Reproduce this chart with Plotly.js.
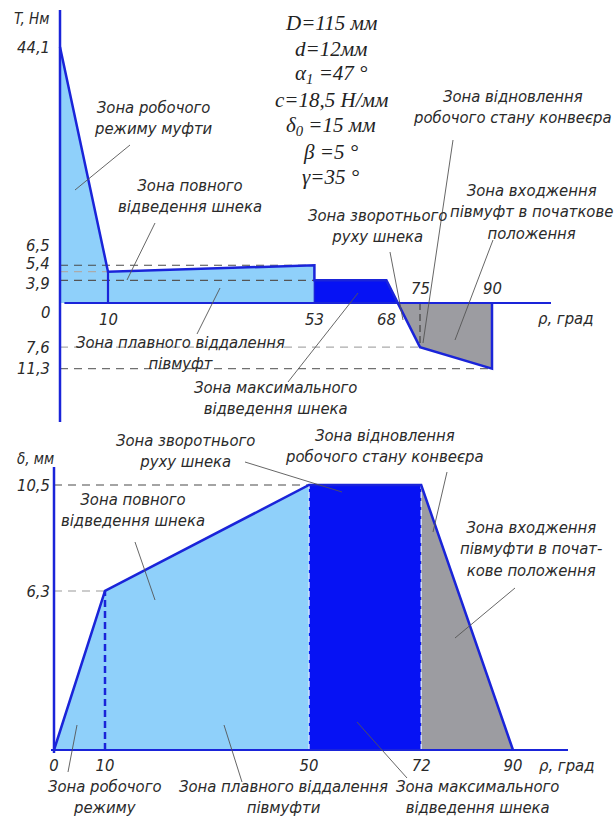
<!DOCTYPE html>
<html>
<head>
<meta charset="utf-8">
<script src="https://cdn.plot.ly/plotly-3.0.1.min.js"></script>
<style>html,body{margin:0;padding:0;background:#fff;}#chart{width:616px;height:829px;}</style>
</head>
<body>
<div id="chart"></div>
<script>
// ---------------- DATA ----------------
// Upper chart: torque T (Нм) versus rotation angle ρ (град)
const T_rho = [0, 10, 53, 53, 68, 75, 90, 90];
const T_val = [44.1, 5.4, 6.5, 3.9, 3.9, -7.6, -11.3, 0];
const T_tickVals = [44.1, 6.5, 5.4, 3.9, 0, -7.6, -11.3];
const T_tickText = ['44,1', '6,5', '5,4', '3,9', '0', '7,6', '11,3'];
const T_rhoTicksBelow = [10, 53, 68];
const T_rhoTicksAbove = [75, 90];

// Lower chart: displacement δ (мм) versus rotation angle ρ (град)
const d_rho = [0, 10, 50, 72, 90];
const d_val = [0, 6.3, 10.5, 10.5, 0];
const d_tickVals = [6.3, 10.5];
const d_tickText = ['6,3', '10,5'];
const d_rhoTicks = [0, 10, 50, 72, 90];

// Parameters block
const params = ['D=115 мм', 'd=12мм', 'α<sub>1</sub> =47 °', 'c=18,5 Н/мм', 'δ<sub>0</sub> =15 мм', 'β =5 °', 'γ=35 °'];

// ---------------- STYLE / LAYOUT HELPERS ----------------
const W = 616, H = 829;
const X = p => p / W;
const Y = p => 1 - p / H;
const BLUE = '#1a24d9', LIGHT = '#8fd0fa', DARK = '#0612f4', GRAY = '#9c9ca1';
const TXT = '#2a2a2a';
const FONT = 'DejaVu Sans Condensed, Liberation Sans Narrow, Liberation Sans, sans-serif';
const tf = (s) => ({family: FONT, size: s || 16.5, color: TXT});
const it = s => '<i>' + s + '</i>';

// pixel geometry of the two plots
const geoTop = {x0: 60, sx: 4.8, left: 57, right: 551, y0: 303, sy: 5.805, ytop: 10, ybot: 422};
const geoBot = {x0: 54, sx: 5.1, left: 51, right: 568, y0: 750, sy: 25.24, ytop: 467, ybot: 753};

const traces = [];
function fillTrace(xs, ys, color, xa, ya) {
  traces.push({x: xs, y: ys, xaxis: xa, yaxis: ya, type: 'scatter', mode: 'lines',
    fill: 'tozeroy', fillcolor: color, line: {width: 0, color: color}, hoverinfo: 'skip'});
}
function lineTrace(xs, ys, color, width, dash, xa, ya) {
  traces.push({x: xs, y: ys, xaxis: xa, yaxis: ya, type: 'scatter', mode: 'lines',
    line: {color: color, width: width, dash: dash || 'solid'}, hoverinfo: 'skip'});
}

// ---- upper chart fills ----
// zero crossing of the sloping segment (68 -> 75)
const i1 = 4, i2 = 5;
const xc = T_rho[i1] + (0 - T_val[i1]) * (T_rho[i2] - T_rho[i1]) / (T_val[i2] - T_val[i1]);
fillTrace(T_rho.slice(0, 3), T_val.slice(0, 3), LIGHT, 'x', 'y');
fillTrace(T_rho.slice(3, 5).concat([xc]), T_val.slice(3, 5).concat([0]), DARK, 'x', 'y');
fillTrace([xc].concat(T_rho.slice(5, 7)), [0].concat(T_val.slice(5, 7)), GRAY, 'x', 'y');

// ---- upper chart dashed reference lines ----
const refT = [
  {v: T_val[2], r: T_rho[2], c: '#4a4a4a'},
  {v: T_val[1], r: T_rho[1], c: '#ababab'},
  {v: T_val[3], r: T_rho[3], c: '#555555'},
  {v: T_val[5], r: T_rho[5], c: '#ababab'},
  {v: T_val[6], r: T_rho[6], c: '#707070'}
];
refT.forEach(o => lineTrace([0, o.r], [o.v, o.v], o.c, 1.2, '8px,6px', 'x', 'y'));
lineTrace([T_rho[5], T_rho[5]], [0, T_val[5]], '#444', 1.2, '7px,4px', 'x', 'y');

// ---- upper chart outline ----
lineTrace(T_rho, T_val, BLUE, 2.5, 'solid', 'x', 'y');
lineTrace([T_rho[1], T_rho[1]], [0, T_val[1]], BLUE, 2.2, 'solid', 'x', 'y');
lineTrace([T_rho[3], T_rho[3]], [T_val[3], 0], BLUE, 1.5, 'solid', 'x', 'y');

// ---- lower chart fills ----
fillTrace(d_rho.slice(0, 3), d_val.slice(0, 3), LIGHT, 'x2', 'y2');
fillTrace(d_rho.slice(2, 4), d_val.slice(2, 4), DARK, 'x2', 'y2');
fillTrace(d_rho.slice(3, 5), d_val.slice(3, 5), GRAY, 'x2', 'y2');

// ---- lower chart dashed lines ----
lineTrace([0, d_rho[2]], [d_val[2], d_val[2]], '#4a4a4a', 1.2, '8px,6px', 'x2', 'y2');
lineTrace([0, d_rho[1]], [d_val[1], d_val[1]], '#9a9a9a', 1.2, '8px,6px', 'x2', 'y2');
lineTrace([d_rho[1], d_rho[1]], [0, d_val[1]], BLUE, 2.5, '7px,4px', 'x2', 'y2');
lineTrace([d_rho[2], d_rho[2]], [0, d_val[2]], 'rgba(215,225,255,0.95)', 1.5, '6px,3px', 'x2', 'y2');
lineTrace([d_rho[3], d_rho[3]], [0, d_val[3]], 'rgba(215,225,255,0.95)', 1.5, '6px,3px', 'x2', 'y2');

// ---- lower chart outline ----
lineTrace(d_rho, d_val, BLUE, 2.5, 'solid', 'x2', 'y2');

// ---------------- ANNOTATIONS ----------------
const ann = [];
function txt(x, y, t, size, anchor) {
  ann.push({xref: 'paper', yref: 'paper', x: X(x), y: Y(y), text: it(t), showarrow: false,
    xanchor: anchor || 'center', yanchor: 'middle', align: 'center', font: tf(size), borderpad: 0});
}
// axis titles
txt(31, 19, 'T, Нм', 15);
txt(35, 459, 'δ, мм', 15);
txt(537, 318, 'ρ, град', 16.5, 'left');
txt(538, 765, 'ρ, град', 16.5, 'left');

// upper y tick labels (offsets only separate the crowded labels, as in the original)
const T_tickShift = [0, 20, 8, -3, -9, 0, 0];
T_tickVals.forEach((v, i) => ann.push({xref: 'paper', yref: 'y', x: X(51), y: v, yshift: T_tickShift[i],
  text: it(T_tickText[i]), showarrow: false, xanchor: 'right', yanchor: 'middle', font: tf(16.5), borderpad: 0}));
T_rhoTicksBelow.forEach(v => ann.push({xref: 'x', yref: 'y', x: v, y: 0, yshift: -16,
  text: it(String(v)), showarrow: false, xanchor: 'center', yanchor: 'middle', font: tf(16.5), borderpad: 0}));
T_rhoTicksAbove.forEach(v => ann.push({xref: 'x', yref: 'y', x: v, y: 0, yshift: 15,
  text: it(String(v)), showarrow: false, xanchor: 'center', yanchor: 'middle', font: tf(16.5), borderpad: 0}));

// parameter block
params.forEach((p, i) => ann.push({xref: 'paper', yref: 'paper', x: X(331), y: Y(23 + i * 25.7),
  text: '<i>' + p + '</i>', showarrow: false, xanchor: 'center', yanchor: 'middle',
  font: {family: 'Liberation Serif, Times New Roman, serif', size: 21, color: '#222'}}));

// zone labels - upper chart
txt(153, 118, 'Зона робочого<br>режиму муфти');
txt(190, 196, 'Зона повного<br>відведення шнека');
txt(180, 353, 'Зона плавного віддалення<br>півмуфт');
txt(275, 398, 'Зона максимального<br>відведення шнека');
txt(377, 226, 'Зона зворотнього<br>руху шнека');
txt(512, 107, 'Зона відновлення<br>робочого стану конвеєра');
txt(531, 212, 'Зона входження<br>півмуфт в початкове<br>положення');

// zone labels - lower chart
txt(185, 451, 'Зона зворотнього<br>руху шнека');
txt(384, 446, 'Зона відновлення<br>робочого стану конвеєра');
txt(133, 510, 'Зона повного<br>відведення шнека');
txt(531, 549, 'Зона входження<br>півмуфти в почат-<br>кове положення');
txt(105, 797, 'Зона робочого<br>режиму');
txt(283, 797, 'Зона плавного віддалення<br>півмуфти');
txt(477, 797, 'Зона максимального<br>відведення шнека');

// ---------------- SHAPES (axes and leader lines) ----------------
const shapes = [];
function axLine(xref, yref, x0, y0, x1, y1, w) {
  shapes.push({type: 'line', xref: xref, yref: yref, x0: x0, y0: y0, x1: x1, y1: y1, layer: 'above',
    line: {color: BLUE, width: w}});
}
axLine('x domain', 'y', 0.015, 0, 1, 0, 2.2);
axLine('x', 'y domain', 0, 0, 0, 1, 2.5);
axLine('x2 domain', 'y2', 0, 0, 1, 0, 2.2);
axLine('x2', 'y2 domain', 0, 0, 0, 1, 2.5);

function leader(xa, ya, xb, yb) {
  shapes.push({type: 'line', xref: 'paper', yref: 'paper', x0: X(xa), y0: Y(ya), x1: X(xb), y1: Y(yb),
    layer: 'above', line: {color: '#555', width: 0.9}});
}
// upper
leader(130, 145, 75, 190);
leader(155, 223, 127, 280);
leader(197, 334, 220, 288);
leader(288, 382, 358, 293);
leader(390, 252, 403, 320);
leader(453, 140, 423, 343);
leader(493, 240, 455, 340);
// lower
leader(245, 462, 342, 492);
leader(447, 472, 433, 532);
leader(135, 542, 155, 600);
leader(515, 588, 455, 638);
leader(68, 772, 77, 725);
leader(242, 782, 224, 725);
leader(407, 778, 357, 722);

// ---------------- LAYOUT ----------------
const noAx = {showgrid: false, zeroline: false, showline: false, ticks: '', fixedrange: true};
const layout = {
  width: W, height: H, margin: {l: 0, r: 0, t: 0, b: 0},
  paper_bgcolor: '#fff', plot_bgcolor: 'rgba(0,0,0,0)', showlegend: false,
  xaxis: Object.assign({}, noAx, {domain: [X(geoTop.left), X(geoTop.right)],
    range: [(geoTop.left - geoTop.x0) / geoTop.sx, (geoTop.right - geoTop.x0) / geoTop.sx], showticklabels: false, anchor: 'y'}),
  yaxis: Object.assign({}, noAx, {domain: [Y(geoTop.ybot), Y(geoTop.ytop)],
    range: [-(geoTop.ybot - geoTop.y0) / geoTop.sy, (geoTop.y0 - geoTop.ytop) / geoTop.sy], showticklabels: false, anchor: 'x'}),
  xaxis2: Object.assign({}, noAx, {domain: [X(geoBot.left), X(geoBot.right)],
    range: [(geoBot.left - geoBot.x0) / geoBot.sx, (geoBot.right - geoBot.x0) / geoBot.sx], anchor: 'y2',
    tickmode: 'array', tickvals: d_rhoTicks, ticktext: d_rhoTicks.map(v => it(String(v))), tickfont: tf(16.5)}),
  yaxis2: Object.assign({}, noAx, {domain: [Y(geoBot.ybot), Y(geoBot.ytop)],
    range: [-(geoBot.ybot - geoBot.y0) / geoBot.sy, (geoBot.y0 - geoBot.ytop) / geoBot.sy], anchor: 'x2',
    tickmode: 'array', tickvals: d_tickVals, ticktext: d_tickText.map(it), tickfont: tf(16.5)}),
  annotations: ann,
  shapes: shapes
};

Plotly.newPlot('chart', traces, layout, {staticPlot: true, displayModeBar: false});
</script>
</body>
</html>
